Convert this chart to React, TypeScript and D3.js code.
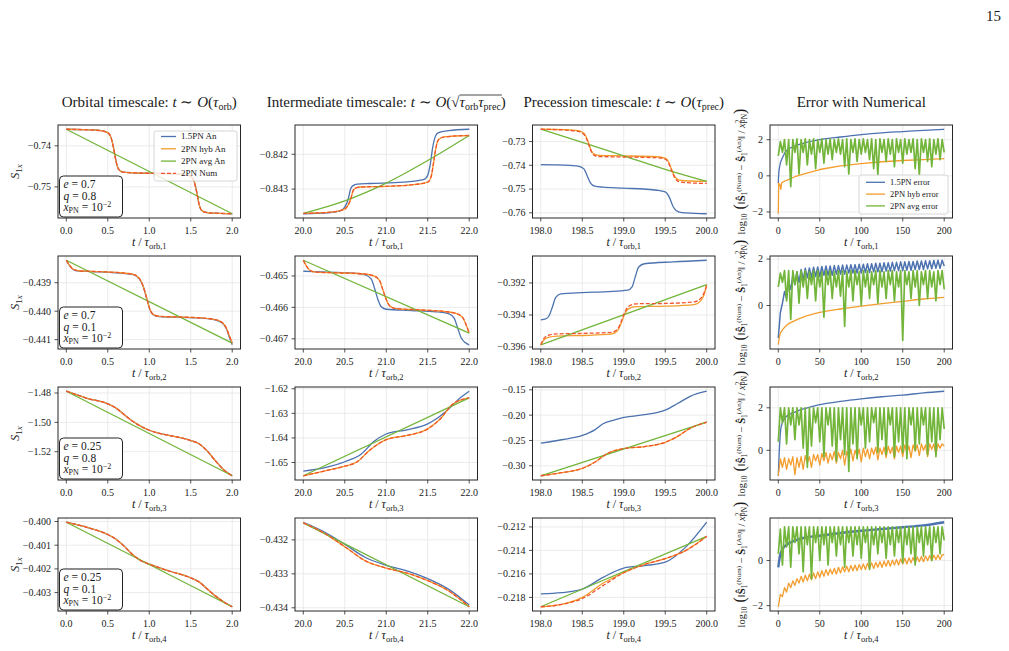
import React, { useLayoutEffect, useRef, useState } from 'react'
import * as d3 from 'd3'

type Pt = [number, number]
type Series = { data: Pt[]; color: string; dash?: string; width?: number; linear?: boolean }

const BLUE = '#4c72b0'
const ORANGE = '#f29d2e'
const GREEN = '#72b53a'
const RED = '#f2542d'
const INK = '#1a1a1a'
const FONT = 'serif'

// grid of axes
const colLeft = [58, 295, 532.5, 770]
const rowTop = [125, 256, 387, 518]
const W = 182.5
const H = 93
const TITLE_Y = 107

// parameters of each row
const rowE = ['0.7', '0.7', '0.25', '0.25']
const rowQ = ['0.8', '0.1', '0.8', '0.1']

// x ranges / ticks of the four columns
const xRanges: Pt[] = [[0, 2], [20, 22], [198, 200], [0, 200]]
const xTicks = [
  [0, 0.5, 1, 1.5, 2],
  [20, 20.5, 21, 21.5, 22],
  [198, 198.5, 199, 199.5, 200],
  [0, 50, 100, 150, 200],
]
const xFormats = ['.1f', '.1f', '.1f', 'd']

// y ticks per row, per column
const yTicks = [
  [[-0.74, -0.75], [-0.842, -0.843], [-0.73, -0.74, -0.75, -0.76], [2, 0, -2]],
  [[-0.439, -0.44, -0.441], [-0.465, -0.466, -0.467], [-0.392, -0.394, -0.396], [2, 0]],
  [[-1.48, -1.5, -1.52], [-1.62, -1.63, -1.64, -1.65], [-0.15, -0.2, -0.25, -0.3], [2, 0]],
  [[-0.4, -0.401, -0.402, -0.403], [-0.432, -0.433, -0.434], [-0.212, -0.214, -0.216, -0.218], [0, -2]],
]
const yFormats = [
  ['.2f', '.3f', '.2f', 'd'],
  ['.3f', '.3f', '.3f', 'd'],
  ['.2f', '.2f', '.2f', 'd'],
  ['.3f', '.3f', '.3f', 'd'],
]

// ---- row 1: e = 0.7, q = 0.8 ----
const r1OrbAn: Pt[] = [[0, -0.73596], [0.2, -0.73605], [0.4, -0.73625], [0.5, -0.7368], [0.54, -0.738], [0.57, -0.7405], [0.6, -0.7438], [0.63, -0.7457], [0.68, -0.7464], [0.8, -0.74655], [1.0, -0.74665], [1.3, -0.7468], [1.45, -0.747], [1.5, -0.7474], [1.54, -0.7486], [1.57, -0.751], [1.6, -0.7542], [1.63, -0.7557], [1.68, -0.7562], [1.8, -0.7564], [2.0, -0.75654]]
const r1OrbNum: Pt[] = [[0, -0.73596], [0.2, -0.73607], [0.4, -0.73628], [0.5, -0.73685], [0.54, -0.73805], [0.57, -0.74055], [0.6, -0.7438], [0.63, -0.7457], [0.68, -0.7464], [0.8, -0.7466], [1.0, -0.7467], [1.3, -0.74685], [1.45, -0.74705], [1.5, -0.74745], [1.54, -0.74865], [1.57, -0.7511], [1.6, -0.7542], [1.63, -0.7557], [1.68, -0.7562], [1.8, -0.7564], [2.0, -0.75654]]
const r1OrbAvg: Pt[] = [[0, -0.73596], [2, -0.75654]]
const r1MidPN15: Pt[] = [[20, -0.84371], [20.3, -0.84368], [20.45, -0.84362], [20.5, -0.84352], [20.54, -0.8433], [20.57, -0.843], [20.6, -0.8429], [20.65, -0.84286], [20.8, -0.84284], [21.2, -0.8428], [21.45, -0.84273], [21.5, -0.8426], [21.53, -0.8423], [21.56, -0.8418], [21.59, -0.8415], [21.63, -0.84138], [21.75, -0.84132], [22, -0.84128]]
const r1MidHyb: Pt[] = [[20, -0.8437], [20.3, -0.84367], [20.48, -0.8436], [20.53, -0.8435], [20.57, -0.8433], [20.6, -0.84305], [20.63, -0.84297], [20.7, -0.84294], [21.0, -0.84292], [21.3, -0.84288], [21.5, -0.8428], [21.54, -0.84265], [21.57, -0.84225], [21.6, -0.8418], [21.63, -0.84158], [21.7, -0.8415], [22, -0.84146]]
const r1MidAvg: Pt[] = [[20, -0.8437], [20.5, -0.84334], [21, -0.84283], [21.5, -0.84218], [22, -0.84146]]
const r1PrecPN15: Pt[] = [[198, -0.7397], [198.3, -0.7399], [198.45, -0.7403], [198.52, -0.7415], [198.56, -0.7445], [198.6, -0.7475], [198.65, -0.7488], [198.75, -0.7492], [199.0, -0.7496], [199.4, -0.7505], [199.5, -0.7512], [199.55, -0.7535], [199.59, -0.757], [199.63, -0.759], [199.7, -0.7599], [199.85, -0.7602], [200, -0.7604]]
const r1PrecHyb: Pt[] = [[198, -0.72481], [198.3, -0.725], [198.45, -0.7254], [198.52, -0.7265], [198.56, -0.729], [198.6, -0.733], [198.64, -0.7352], [198.7, -0.7358], [199.0, -0.736], [199.4, -0.7364], [199.5, -0.737], [199.54, -0.7385], [199.58, -0.742], [199.62, -0.745], [199.67, -0.7462], [199.8, -0.7466], [200, -0.7467]]
const r1PrecNum: Pt[] = [[198, -0.72481], [198.3, -0.7252], [198.45, -0.7257], [198.52, -0.727], [198.56, -0.7295], [198.6, -0.7335], [198.64, -0.7357], [198.7, -0.7363], [199.0, -0.7365], [199.4, -0.7368], [199.5, -0.7374], [199.54, -0.739], [199.58, -0.7425], [199.62, -0.7456], [199.67, -0.7469], [199.8, -0.7474], [200, -0.7476]]
const r1PrecAvg: Pt[] = [[198, -0.72481], [198.5, -0.7303], [199, -0.736], [199.5, -0.7417], [200, -0.7468]]
const r1ErrPN15: Pt[] = [[0, -0.4], [0.5, 0.1], [2, 0.6], [5, 1.0], [10, 1.4], [20, 1.65], [30, 1.8], [50, 2.0], [75, 2.15], [100, 2.28], [125, 2.38], [150, 2.45], [175, 2.52], [200, 2.58]]
const r1ErrHyb: Pt[] = [[0, -2.1], [0.5, -0.4], [2, -0.5], [3, -0.75], [4, -0.4], [7, -0.3], [10, -0.25], [20, -0.05], [30, 0.1], [50, 0.35], [75, 0.55], [100, 0.68], [125, 0.78], [150, 0.85], [175, 0.9], [200, 0.95]]
const r1ErrAvg = [
  1.1, 1.9, 1.3, 2.0, 0.6, 2.0, -0.6, 2.0, 1.3, 2.05,
  0.1, 2.0, 1.3, 2.05, 0.6, 2.0, 1.2, 2.05, 0.4, 2.0,
  1.3, 2.05, 0.7, 2.0, 1.2, 2.05, 0.9, 2.0, 1.3, 2.05,
  1.2, 2.0, 0.5, 2.05, 0.1, 2.0, 1.3, 2.05, 0.8, 2.0,
  1.2, 2.05, 1.3, 2.0, 0.9, 2.05, 0.4, 2.0, 0.05, 2.05,
  1.3, 2.0, 0.8, 2.05, 1.2, 2.0, 0.5, 2.05, 1.3, 2.0,
  0.7, 2.05, 1.2, 2.0, 1.3, 2.05, 0.4, 2.0, 0.05, 2.05,
  1.3, 2.0, 0.8, 2.05, 0.5, 2.0, 1.2, 2.05, 0.9, 2.0,
  1.3,
]

// ---- row 2: e = 0.7, q = 0.1 ----
const r2OrbHyb: Pt[] = [[0, -0.43821], [0.03, -0.43835], [0.08, -0.43852], [0.15, -0.43858], [0.3, -0.4386], [0.6, -0.43864], [0.8, -0.4387], [0.88, -0.43885], [0.93, -0.43915], [0.97, -0.43955], [1.01, -0.43995], [1.05, -0.44012], [1.12, -0.44018], [1.3, -0.4402], [1.6, -0.44023], [1.8, -0.4403], [1.88, -0.4404], [1.93, -0.4406], [1.97, -0.4409], [2.0, -0.44112]]
const r2OrbPN15: Pt[] = [[0, -0.43821], [0.03, -0.43836], [0.08, -0.43853], [0.15, -0.43859], [0.3, -0.43861], [0.6, -0.43865], [0.8, -0.43871], [0.88, -0.43886], [0.93, -0.43916], [0.97, -0.43956], [1.01, -0.43996], [1.05, -0.44013], [1.12, -0.44019], [1.3, -0.44021], [1.6, -0.44024], [1.8, -0.44031], [1.88, -0.44042], [1.93, -0.44062], [1.97, -0.44095], [2.0, -0.44118]]
const r2OrbAvg: Pt[] = [[0, -0.43821], [2, -0.44112]]
const r2MidPN15: Pt[] = [[20, -0.46485], [20.3, -0.46488], [20.6, -0.46491], [20.75, -0.46497], [20.82, -0.4651], [20.86, -0.4654], [20.9, -0.46575], [20.94, -0.46598], [21.0, -0.46606], [21.3, -0.4661], [21.6, -0.46614], [21.75, -0.4662], [21.82, -0.46635], [21.86, -0.46665], [21.9, -0.46695], [21.95, -0.46712], [22, -0.46719]]
const r2MidHyb: Pt[] = [[20, -0.4645], [20.03, -0.46465], [20.08, -0.46482], [20.15, -0.46488], [20.4, -0.4649], [20.7, -0.46493], [20.85, -0.465], [20.92, -0.46515], [20.96, -0.46545], [21.0, -0.46575], [21.04, -0.46595], [21.1, -0.46603], [21.4, -0.46608], [21.7, -0.46613], [21.85, -0.4662], [21.92, -0.46632], [21.97, -0.4666], [22, -0.46682]]
const r2MidAvg: Pt[] = [[20, -0.4645], [22, -0.46682]]
const r2PrecPN15: Pt[] = [[198, -0.3943], [198.06, -0.39425], [198.1, -0.39405], [198.14, -0.3935], [198.18, -0.3929], [198.24, -0.39268], [198.5, -0.3926], [198.8, -0.39254], [199.05, -0.39245], [199.1, -0.39225], [199.14, -0.3916], [199.18, -0.391], [199.25, -0.3908], [199.6, -0.39068], [200, -0.39058]]
const r2PrecHyb: Pt[] = [[198, -0.39586], [198.04, -0.39555], [198.1, -0.39538], [198.2, -0.39532], [198.5, -0.39528], [198.85, -0.3952], [198.93, -0.39495], [198.97, -0.3945], [199.01, -0.39395], [199.06, -0.3936], [199.15, -0.39348], [199.5, -0.39345], [199.85, -0.39335], [199.93, -0.3931], [199.97, -0.3927], [200, -0.39211]]
const r2PrecNum: Pt[] = [[198, -0.39586], [198.04, -0.39545], [198.1, -0.39525], [198.2, -0.39518], [198.5, -0.39515], [198.85, -0.39508], [198.93, -0.39485], [198.97, -0.3944], [199.01, -0.39385], [199.06, -0.39345], [199.15, -0.3933], [199.5, -0.39328], [199.85, -0.39318], [199.93, -0.39295], [199.97, -0.3926], [200, -0.39211]]
const r2PrecAvg: Pt[] = [[198, -0.39586], [200, -0.39211]]
const r2ErrPN15 = [
  -1.4, -0.3, 0.1, 0.6, 0.3, 1.0, 0.7, 1.3, 0.9, 1.45,
  1.0, 1.55, 1.1, 1.6, 1.2, 1.62, 1.2, 1.65, 1.25, 1.66,
  1.25, 1.68, 1.3, 1.7, 1.3, 1.7, 1.3, 1.72, 1.35, 1.72,
  1.35, 1.74, 1.35, 1.74, 1.4, 1.76, 1.4, 1.76, 1.4, 1.78,
  1.4, 1.78, 1.42, 1.8, 1.42, 1.8, 1.45, 1.82, 1.45, 1.82,
  1.45, 1.84, 1.48, 1.84, 1.48, 1.86, 1.5, 1.86, 1.5, 1.88,
  1.5, 1.88, 1.52, 1.9, 1.52, 1.9, 1.55, 1.92, 1.55, 1.92,
  1.55, 1.93, 1.58, 1.93, 1.58, 1.94, 1.6, 1.95, 1.6, 1.95,
  1.7,
]
const r2ErrHyb: Pt[] = [[0, -1.69], [0.5, -1.55], [2, -1.25], [5, -1.05], [10, -0.85], [20, -0.65], [30, -0.5], [50, -0.3], [75, -0.15], [100, -0.03], [125, 0.08], [150, 0.18], [175, 0.28], [200, 0.35]]
const r2ErrAvg = [
  0.8, 1.4, 1.0, 1.5, 0.2, 1.5, -0.6, 1.5, 0.9, 1.45,
  0.1, 1.5, 0.8, 1.5, 0.3, 1.45, 0.9, 1.5, 0.2, 1.5,
  0.8, 1.45, -0.5, 1.5, 0.9, 1.5, 0.3, 1.45, 0.8, 1.5,
  0.4, 1.5, -0.9, 1.45, 0.8, 1.5, 0.2, 1.5, 0.9, 1.45,
  0.0, 1.5, 0.8, 1.5, 0.3, 1.45, 0.9, 1.5, 0.1, 1.5,
  0.8, 1.45, 0.3, 1.5, 0.9, 1.5, 0.2, 1.45, 0.8, 1.5,
  -1.5, 1.5, 0.9, 1.45, 0.3, 1.5, 0.8, 1.5, 0.0, 1.45,
  0.9, 1.5, 0.3, 1.5, 0.8, 1.45, 0.2, 1.5, 0.9, 1.5,
  0.7,
]

// ---- row 3: e = 0.25, q = 0.8 ----
const r3OrbAn: Pt[] = [[0, -1.4788], [0.25, -1.4836], [0.5, -1.4874], [0.6, -1.4903], [0.7, -1.4948], [0.8, -1.4993], [0.9, -1.5027], [1.0, -1.5054], [1.1, -1.5072], [1.25, -1.509], [1.5, -1.5124], [1.6, -1.5146], [1.7, -1.5196], [1.8, -1.5263], [1.9, -1.5324], [2.0, -1.5364]]
const r3OrbAvg: Pt[] = [[0, -1.4788], [2, -1.5364]]
const r3MidPN15: Pt[] = [[20, -1.6535], [20.25, -1.6522], [20.5, -1.6497], [20.7, -1.6465], [20.85, -1.6415], [21.0, -1.6384], [21.25, -1.6367], [21.5, -1.6343], [21.6, -1.6323], [21.75, -1.6283], [21.9, -1.6235], [22.0, -1.621]]
const r3MidHyb: Pt[] = [[20, -1.6554], [20.25, -1.6535], [20.5, -1.6515], [20.65, -1.6497], [20.8, -1.645], [21.0, -1.6407], [21.25, -1.639], [21.5, -1.6363], [21.65, -1.6323], [21.8, -1.6263], [22.0, -1.6237]]
const r3MidAvg: Pt[] = [[20, -1.6554], [22, -1.6237]]
const r3PrecPN15: Pt[] = [[198, -0.2553], [198.25, -0.2486], [198.5, -0.2401], [198.65, -0.229], [198.75, -0.217], [198.9, -0.209], [199.0, -0.2046], [199.25, -0.199], [199.5, -0.19], [199.65, -0.177], [199.8, -0.163], [200, -0.1528]]
const r3PrecHyb: Pt[] = [[198, -0.3197], [198.25, -0.3137], [198.5, -0.3052], [198.65, -0.293], [198.8, -0.276], [199.0, -0.266], [199.25, -0.2621], [199.5, -0.2536], [199.65, -0.242], [199.8, -0.226], [200, -0.2139]]
const r3PrecAvg: Pt[] = [[198, -0.3197], [200, -0.2139]]
const r3ErrPN15: Pt[] = [[0, -1.2], [1, -0.2], [2, 0.5], [3, 1.0], [5, 1.3], [10, 1.6], [20, 1.8], [35, 2.0], [50, 2.15], [75, 2.3], [100, 2.42], [125, 2.52], [150, 2.6], [175, 2.7], [200, 2.78]]
const r3ErrHyb = [
  -1.2, -0.4, -0.8, -0.35, -0.9, -0.4, -0.7, -0.3, -1.15, -0.35,
  -0.8, -0.3, -0.9, -0.25, -0.6, -0.3, -0.8, -0.2, -0.5, -0.2,
  -0.7, -0.15, -0.5, -0.1, -0.6, -0.15, -0.45, -0.05, -0.6, -0.1,
  -0.4, 0.0, -0.7, -0.05, -0.35, 0.05, -0.5, 0.0, -0.3, 0.05,
  -0.55, 0.1, -0.3, 0.05, -0.4, 0.1, -0.2, 0.15, -0.45, 0.1,
  -0.2, 0.15, -0.35, 0.2, -0.15, 0.15, -0.4, 0.2, -0.1, 0.2,
  -0.3, 0.25, -0.1, 0.2, -0.35, 0.25, -0.05, 0.25, -0.25, 0.3,
  0.0, 0.25, -0.3, 0.3, 0.05, 0.3, -0.2, 0.3, 0.1, 0.3,
  0.2,
]
const r3ErrAvg = [
  0.4, 2.0, 1.3, 2.0, 0.3, 2.0, 1.2, 2.0, 0.5, 2.0,
  1.2, 2.0, 0.1, 2.0, -0.8, 2.0, 0.2, 2.0, 1.3, 2.0,
  0.4, 2.0, -0.3, 2.0, 1.2, 2.0, 0.2, 2.0, -0.5, 2.0,
  0.5, 2.0, -0.2, 2.0, -1.0, 2.0, 0.3, 2.0, -0.4, 2.0,
  1.2, 2.0, 0.1, 2.0, 0.4, 2.0, 1.3, 2.0, -0.1, 2.0,
  0.5, 2.0, -0.2, 2.0, 1.2, 2.0, -0.3, 2.0, 0.4, 2.0,
  -0.1, 2.0, -0.4, 2.0, 1.2, 2.0, 0.0, 2.0, 0.3, 2.0,
  1.2, 2.0, -0.2, 2.0, 0.4, 2.0, -0.3, 2.0, 0.5, 2.0,
  1.0,
]

// ---- row 4: e = 0.25, q = 0.1 ----
const r4OrbAn: Pt[] = [[0, -0.40003], [0.25, -0.40025], [0.5, -0.40055], [0.6, -0.40075], [0.7, -0.40105], [0.8, -0.4014], [0.9, -0.40165], [1.0, -0.4018], [1.25, -0.4021], [1.5, -0.40238], [1.6, -0.40255], [1.7, -0.40285], [1.8, -0.40315], [1.9, -0.4034], [2.0, -0.4036]]
const r4OrbAvg: Pt[] = [[0, -0.40003], [2, -0.4036]]
const r4MidPN15: Pt[] = [[20, -0.43148], [20.25, -0.43176], [20.5, -0.43213], [20.75, -0.43252], [21.0, -0.43275], [21.25, -0.43291], [21.5, -0.43314], [21.75, -0.43345], [22, -0.43392]]
const r4MidHyb: Pt[] = [[20, -0.4315], [20.25, -0.4318], [20.5, -0.4322], [20.75, -0.43262], [21.0, -0.43283], [21.25, -0.43298], [21.5, -0.4332], [21.75, -0.4335], [22, -0.43397]]
const r4MidAvg: Pt[] = [[20, -0.4315], [22, -0.43397]]
const r4PrecPN15: Pt[] = [[198, -0.2177], [198.25, -0.2176], [198.5, -0.2173], [198.75, -0.2163], [199.0, -0.2155], [199.25, -0.2153], [199.5, -0.215], [199.75, -0.2137], [200, -0.2116]]
const r4PrecHyb: Pt[] = [[198, -0.2188], [198.25, -0.2186], [198.5, -0.218], [198.75, -0.2168], [199.0, -0.2159], [199.25, -0.2152], [199.5, -0.2147], [199.75, -0.214], [200, -0.2128]]
const r4PrecNum: Pt[] = [[198, -0.2188], [198.25, -0.2186], [198.5, -0.2181], [198.75, -0.217], [199.0, -0.2159], [199.25, -0.2152], [199.5, -0.2147], [199.75, -0.214], [200, -0.2128]]
const r4PrecAvg: Pt[] = [[198, -0.2188], [200, -0.2128]]
const r4ErrPN15: Pt[] = [[0, -0.3], [2, 0.2], [5, 0.5], [10, 0.7], [20, 0.88], [30, 1.0], [50, 1.1], [75, 1.22], [100, 1.32], [125, 1.4], [150, 1.48], [175, 1.56], [200, 1.7]]
const r4ErrHyb = [
  -2.05, -1.5, -1.6, -1.2, -1.4, -1.0, -1.2, -0.9, -1.1, -0.8,
  -1.0, -0.7, -0.95, -0.65, -0.9, -0.6, -0.85, -0.55, -0.8, -0.5,
  -0.75, -0.45, -0.7, -0.4, -0.65, -0.38, -0.6, -0.35, -0.6, -0.3,
  -0.55, -0.28, -0.5, -0.25, -0.5, -0.22, -0.45, -0.2, -0.45, -0.18,
  -0.4, -0.15, -0.4, -0.12, -0.35, -0.1, -0.35, -0.08, -0.3, -0.05,
  -0.3, -0.03, -0.25, 0.0, -0.25, 0.02, -0.2, 0.05, -0.2, 0.07,
  -0.15, 0.1, -0.15, 0.12, -0.1, 0.14, -0.1, 0.16, -0.05, 0.18,
  -0.05, 0.2, 0.0, 0.22, 0.0, 0.24, 0.05, 0.25, 0.05, 0.26,
  0.25,
]
const r4ErrAvg = [
  0.3, 1.4, -0.2, 1.5, 0.6, 1.5, -0.3, 1.5, 0.8, 1.5,
  0.3, 1.5, -0.5, 1.5, 0.7, 1.5, -0.8, 1.5, 0.8, 1.5,
  0.0, 1.5, 0.7, 1.5, -0.2, 1.5, 0.8, 1.5, 0.2, 1.5,
  0.7, 1.5, -0.3, 1.5, 0.8, 1.5, 0.2, 1.5, 0.7, 1.5,
  0.1, 1.5, 0.8, 1.5, -0.4, 1.5, 0.7, 1.5, 0.3, 1.5,
  0.8, 1.5, 0.1, 1.5, 0.7, 1.5, 0.2, 1.5, 0.8, 1.5,
  -0.1, 1.5, 0.7, 1.5, 0.3, 1.5, -0.2, 1.5, 0.8, 1.5,
  0.2, 1.5, 0.7, 1.5, 0.0, 1.5, 0.8, 1.5, 0.3, 1.5,
  0.9,
]

// error series are sampled on a common time grid
const errT = d3.range(0, 200.001, 2.5)
const onGrid = (v: number[]): Pt[] => v.map((y, i) => [errT[i], y])

const spin = (pn15: Pt[], hyb: Pt[], avg: Pt[], num: Pt[]): Series[] => [
  { data: pn15, color: BLUE },
  { data: hyb, color: ORANGE },
  { data: avg, color: GREEN },
  { data: num, color: RED, dash: '4,2' },
]
const err = (pn15: Pt[], hyb: Pt[], avg: Pt[]): Series[] => [
  { data: pn15, color: BLUE },
  { data: hyb, color: ORANGE, linear: true },
  { data: avg, color: GREEN, linear: true, width: 1.7 },
]

const panels: Series[][][] = [
  [
    spin(r1OrbAn, r1OrbAn, r1OrbAvg, r1OrbNum),
    spin(r1MidPN15, r1MidHyb, r1MidAvg, r1MidHyb),
    spin(r1PrecPN15, r1PrecHyb, r1PrecAvg, r1PrecNum),
    err(r1ErrPN15, r1ErrHyb, onGrid(r1ErrAvg)),
  ],
  [
    spin(r2OrbPN15, r2OrbHyb, r2OrbAvg, r2OrbHyb),
    spin(r2MidPN15, r2MidHyb, r2MidAvg, r2MidHyb),
    spin(r2PrecPN15, r2PrecHyb, r2PrecAvg, r2PrecNum),
    [{ data: onGrid(r2ErrPN15), color: BLUE, linear: true, width: 1.5 }, { data: r2ErrHyb, color: ORANGE }, { data: onGrid(r2ErrAvg), color: GREEN, linear: true, width: 1.7 }],
  ],
  [
    spin(r3OrbAn, r3OrbAn, r3OrbAvg, r3OrbAn),
    spin(r3MidPN15, r3MidHyb, r3MidAvg, r3MidHyb),
    spin(r3PrecPN15, r3PrecHyb, r3PrecAvg, r3PrecHyb),
    err(r3ErrPN15, onGrid(r3ErrHyb), onGrid(r3ErrAvg)),
  ],
  [
    spin(r4OrbAn, r4OrbAn, r4OrbAvg, r4OrbAn),
    spin(r4MidPN15, r4MidHyb, r4MidAvg, r4MidHyb),
    spin(r4PrecPN15, r4PrecHyb, r4PrecAvg, r4PrecNum),
    [{ data: r4ErrPN15, color: BLUE, width: 2.4 }, { data: onGrid(r4ErrHyb), color: ORANGE, linear: true }, { data: onGrid(r4ErrAvg), color: GREEN, linear: true, width: 1.7 }],
  ],
]

const spinLegend = ['1.5PN An', '2PN hyb An', '2PN avg An', '2PN Num']
const errLegend = ['1.5PN error', '2PN hyb error', '2PN avg error']

const padded = ([lo, hi]: number[]) => [lo - 0.05 * (hi - lo), hi + 0.05 * (hi - lo)]

function Panel({ row, col }: { row: number; col: number }) {
  const left = colLeft[col]
  const top = rowTop[row]
  const series = panels[row][col]
  const x = d3.scaleLinear().domain(padded(xRanges[col])).range([left, left + W])
  const ys = series.flatMap(s => s.data.map(d => d[1]))
  const y = d3.scaleLinear().domain(padded(d3.extent(ys) as number[])).range([top + H, top])
  const xf = d3.format(xFormats[col])
  const yf = d3.format(yFormats[row][col])
  const clipId = `clip-${row}-${col}`
  return (
    <g>
      <clipPath id={clipId}>
        <rect x={left} y={top} width={W} height={H} />
      </clipPath>
      {xTicks[col].map(t => (
        <line key={'gx' + t} x1={x(t)} x2={x(t)} y1={top} y2={top + H} stroke="#e6e6e6" strokeWidth={0.8} />
      ))}
      {yTicks[row][col].map(t => (
        <line key={'gy' + t} x1={left} x2={left + W} y1={y(t)} y2={y(t)} stroke="#e6e6e6" strokeWidth={0.8} />
      ))}
      <g clipPath={`url(#${clipId})`}>
        {series.map((s, i) => {
          const line = d3.line<Pt>().x(d => x(d[0])).y(d => y(d[1]))
            .curve(s.linear ? d3.curveLinear : d3.curveMonotoneX)
          return (
            <path key={i} d={line(s.data) ?? ''} fill="none" stroke={s.color}
              strokeWidth={s.width ?? 1.3} strokeDasharray={s.dash} strokeLinejoin="round" />
          )
        })}
      </g>
      <rect x={left} y={top} width={W} height={H} fill="none" stroke="#262626" strokeWidth={1} />
      {xTicks[col].map(t => (
        <g key={'tx' + t}>
          <line x1={x(t)} x2={x(t)} y1={top + H} y2={top + H + 3.5} stroke="#262626" strokeWidth={0.8} />
          <text x={x(t)} y={top + H + 16} textAnchor="middle" fontSize={10}>{xf(t)}</text>
        </g>
      ))}
      {yTicks[row][col].map(t => (
        <g key={'ty' + t}>
          <line x1={left - 3.5} x2={left} y1={y(t)} y2={y(t)} stroke="#262626" strokeWidth={0.8} />
          <text x={left - 7} y={y(t) + 3.4} textAnchor="end" fontSize={10}>{yf(t)}</text>
        </g>
      ))}
      <text x={left + W / 2} y={top + H + 28} textAnchor="middle" fontSize={12}>
        <tspan fontStyle="italic">t</tspan> / <tspan fontStyle="italic">τ</tspan>
        <tspan fontSize={8.5} dy={2.5}>orb,{row + 1}</tspan>
      </text>
    </g>
  )
}

function Legend({ x, y, w, h, labels, colors, fs, lineLen, first, gap }: {
  x: number; y: number; w: number; h: number; labels: string[]; colors: string[]
  fs: number; lineLen: number; first: number; gap: number
}) {
  return (
    <g>
      <rect x={x} y={y} width={w} height={h} rx={2.5} fill="white" fillOpacity={0.8} stroke="#cccccc" strokeWidth={0.8} />
      {labels.map((l, i) => (
        <g key={l}>
          <line x1={x + 7} x2={x + 7 + lineLen} y1={y + first + i * gap} y2={y + first + i * gap}
            stroke={colors[i]} strokeWidth={1.3} strokeDasharray={l === '2PN Num' ? '4,2' : undefined} />
          <text x={x + 12 + lineLen} y={y + first + i * gap + fs * 0.33} fontSize={fs}>{l}</text>
        </g>
      ))}
    </g>
  )
}

function ParamBox({ row }: { row: number }) {
  const left = colLeft[0] + 1.5
  const top = rowTop[row] + H - 42
  return (
    <g fontSize={11.5}>
      <rect x={left} y={top} width={63} height={41} rx={4} fill="white" stroke="#222" strokeWidth={1} />
      <text x={left + 4} y={top + 12}>
        <tspan fontStyle="italic">e</tspan><tspan dx={3}>=</tspan><tspan dx={3}>{rowE[row]}</tspan>
      </text>
      <text x={left + 4} y={top + 23.5}>
        <tspan fontStyle="italic">q</tspan><tspan dx={3}>=</tspan><tspan dx={3}>{rowQ[row]}</tspan>
      </text>
      <text x={left + 4} y={top + 35}>
        <tspan fontStyle="italic">x</tspan><tspan fontSize={8} dy={2}>PN</tspan>
        <tspan dy={-2} dx={3}>=</tspan><tspan dx={3}>10</tspan><tspan fontSize={8} dy={-4.5}>−2</tspan>
      </text>
    </g>
  )
}

// title with a square root; the vinculum is measured from the rendered glyphs
function SqrtTitle({ x }: { x: number }) {
  const rootRef = useRef<SVGTSpanElement>(null)
  const argRef = useRef<SVGTSpanElement>(null)
  const [bar, setBar] = useState<number[] | null>(null)
  useLayoutEffect(() => {
    if (!rootRef.current || !argRef.current) return
    const r = rootRef.current.getBBox()
    const a = argRef.current.getBBox()
    setBar([r.x + r.width - 0.6, a.x + a.width + 0.5])
  }, [])
  return (
    <g>
      <text x={x} y={TITLE_Y} textAnchor="middle" fontSize={15}>
        Intermediate timescale: <tspan fontStyle="italic">t</tspan> ∼ <tspan fontStyle="italic">O</tspan>(<tspan ref={rootRef}>√</tspan>
        <tspan ref={argRef}>
          <tspan fontStyle="italic">τ</tspan><tspan fontSize={10} dy={3}>orb</tspan>
          <tspan fontStyle="italic" dy={-3}>τ</tspan><tspan fontSize={10} dy={3}>prec</tspan>
        </tspan>
        <tspan dy={-3}>)</tspan>
      </text>
      {bar && <line x1={bar[0]} x2={bar[1]} y1={TITLE_Y - 12} y2={TITLE_Y - 12} stroke={INK} strokeWidth={0.8} />}
    </g>
  )
}

export default function App() {
  const cx = colLeft.map(l => l + W / 2)
  return (
    <svg width={1009} height={651}
      style={{ position: 'absolute', left: 0, top: 0, background: 'white', fontFamily: FONT }}
      fill={INK}>
      <text x={1001} y={21} textAnchor="end" fontSize={15}>15</text>

      <text x={cx[0]} y={TITLE_Y} textAnchor="middle" fontSize={15}>
        Orbital timescale: <tspan fontStyle="italic">t</tspan> ∼ <tspan fontStyle="italic">O</tspan>(<tspan fontStyle="italic">τ</tspan>
        <tspan fontSize={10} dy={3}>orb</tspan><tspan dy={-3}>)</tspan>
      </text>
      <SqrtTitle x={cx[1]} />
      <text x={cx[2]} y={TITLE_Y} textAnchor="middle" fontSize={15}>
        Precession timescale: <tspan fontStyle="italic">t</tspan> ∼ <tspan fontStyle="italic">O</tspan>(<tspan fontStyle="italic">τ</tspan>
        <tspan fontSize={10} dy={3}>prec</tspan><tspan dy={-3}>)</tspan>
      </text>
      <text x={cx[3]} y={TITLE_Y} textAnchor="middle" fontSize={15}>Error with Numerical</text>

      {rowTop.map((top, r) => (
        <g key={r}>
          {colLeft.map((_, c) => <Panel key={c} row={r} col={c} />)}
          <ParamBox row={r} />
          <text transform={`translate(19,${top + H / 2}) rotate(-90)`} textAnchor="middle" fontSize={12.5}>
            <tspan fontStyle="italic">S</tspan><tspan fontSize={9} dy={2.5}>1<tspan fontStyle="italic">x</tspan></tspan>
          </text>
          <text transform={`translate(745,${top + H / 2}) rotate(-90)`} textAnchor="middle" fontSize={10.5}>
            log<tspan fontSize={7.5} dy={2}>10</tspan>
            <tspan dy={-2} fontSize={16}> (</tspan>‖<tspan fontWeight="bold">Ŝ</tspan>
            <tspan fontSize={7.5} dy={2}>1</tspan><tspan fontSize={7} dy={-6}>(Num)</tspan>
            <tspan dy={4}> − </tspan><tspan fontWeight="bold">Ŝ</tspan>
            <tspan fontSize={7.5} dy={2}>1</tspan><tspan fontSize={7} dy={-6}>(An)</tspan>
            <tspan dy={4}>‖ / </tspan><tspan fontStyle="italic">x</tspan>
            <tspan fontSize={7.5} dy={-4}>2</tspan><tspan fontSize={7.5} dy={6} dx={-4}>PN</tspan>
            <tspan dy={-2} fontSize={16}>)</tspan>
          </text>
        </g>
      ))}

      <Legend x={colLeft[0] + 96} y={rowTop[0] + 6} w={83} h={50} labels={spinLegend}
        colors={[BLUE, ORANGE, GREEN, RED]} fs={9} lineLen={15} first={5.5} gap={12.3} />
      <Legend x={colLeft[3] + 89} y={rowTop[0] + 50} w={89} h={39} labels={errLegend}
        colors={[BLUE, ORANGE, GREEN]} fs={8.5} lineLen={19} first={7.3} gap={11.8} />
    </svg>
  )
}
